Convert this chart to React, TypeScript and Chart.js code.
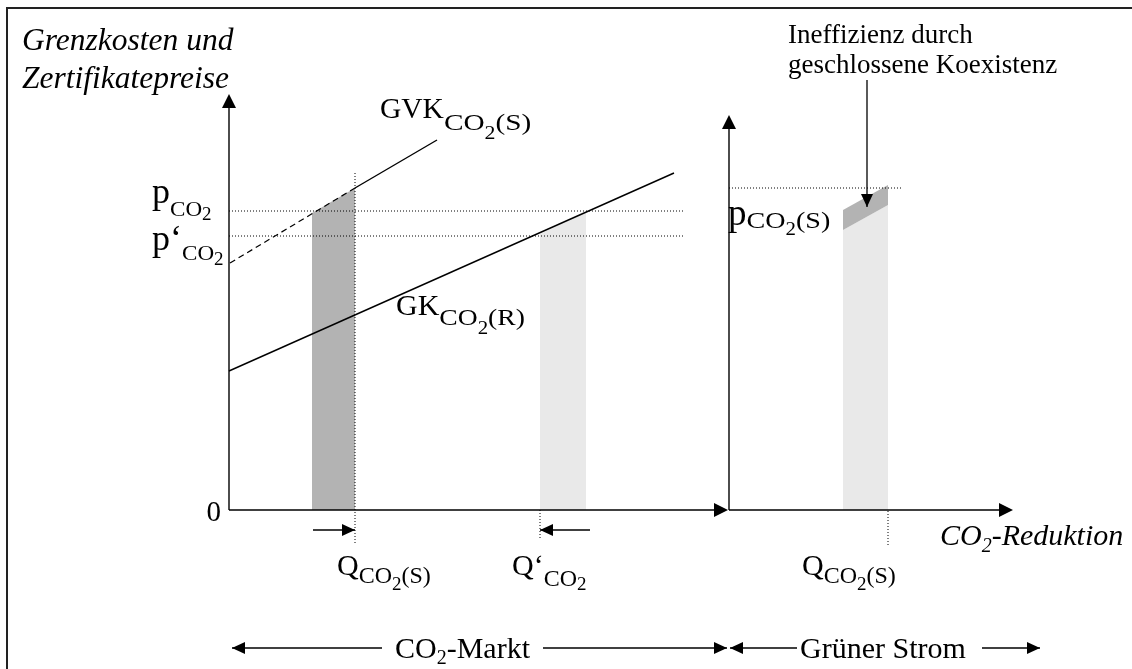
import { useEffect, useRef } from "react";
import { Chart, registerables } from "chart.js";

Chart.register(...registerables);

// ---- Data (diagram units; origin = origin of the CO2-market panel) ----
const xExtent = [-229, 903];
const yExtent = [-159, 510];

// Marginal cost curve of green-power-induced CO2 reduction (GVK)
const gvkX = [1, 126, 208];
const gvkY = [247, 322, 370];
// Marginal cost curve of CO2 reduction (GK)
const gkX = [0, 445];
const gkY = [139, 337];

// Price levels: p_CO2, p'_CO2, p_CO2(S)
const priceLevels = [299, 274, 322];
// Quantities: Q_CO2(S), Q'_CO2, Q_CO2(S) (green power panel)
const quantities = [126, 311, 659];

// Shaded areas
const darkBarX = [83, 126];
const darkBarY = [297, 322];
const lightBarX = [311, 357];
const lightBarY = [276, 298];
const greenBarX = [614, 659];
const greenBandTop = [300, 325];
const greenBandBottom = [280, 305];

// Axes
const marketAxisEnd = [499, 416]; // x tip, y tip
const greenOriginX = 500;
const greenAxisEnd = [784, 395];

const FONT = '"Liberation Serif", "Times New Roman", serif';

type Run = [string, number, number, boolean?, number?];

function drawRuns(ctx: CanvasRenderingContext2D, x: number, y: number, parts: Run[]) {
  let cx = x;
  for (const [t, size, dy, italic, sx] of parts) {
    const s = sx ?? 1;
    ctx.font = `${italic ? "italic " : ""}${size}px ${FONT}`;
    ctx.save();
    ctx.translate(cx, y + dy);
    ctx.scale(s, 1);
    ctx.fillText(t, 0, 0);
    ctx.restore();
    cx += ctx.measureText(t).width * s;
  }
}

function arrowHead(
  ctx: CanvasRenderingContext2D,
  tx: number,
  ty: number,
  dx: number,
  dy: number,
  len: number,
  half: number
) {
  const bx = tx - dx * len;
  const by = ty - dy * len;
  const px = -dy;
  const py = dx;
  ctx.beginPath();
  ctx.moveTo(tx, ty);
  ctx.lineTo(bx + px * half, by + py * half);
  ctx.lineTo(bx - px * half, by - py * half);
  ctx.closePath();
  ctx.fill();
}

const pts = (xs: number[], ys: number[]) => xs.map((x, i) => ({ x, y: ys[i] }));

const diagramPlugin = {
  id: "diagram",
  beforeDraw(chart: any) {
    const ctx = chart.ctx as CanvasRenderingContext2D;
    ctx.save();
    ctx.fillStyle = "#fff";
    ctx.fillRect(0, 0, chart.width, chart.height);
    ctx.restore();
  },
  afterDatasetsDraw(chart: any) {
    const ctx = chart.ctx as CanvasRenderingContext2D;
    const X = (v: number) => chart.scales.x.getPixelForValue(v);
    const Y = (v: number) => chart.scales.y.getPixelForValue(v);
    ctx.save();
    // frame
    ctx.strokeStyle = "#222";
    ctx.lineWidth = 2;
    ctx.beginPath();
    ctx.moveTo(7, chart.height);
    ctx.lineTo(7, 8);
    ctx.lineTo(chart.width, 8);
    ctx.stroke();

    ctx.fillStyle = "#000";
    ctx.strokeStyle = "#000";
    // axis arrowheads
    arrowHead(ctx, X(0), Y(marketAxisEnd[1]), 0, -1, 14, 7);
    arrowHead(ctx, X(marketAxisEnd[0]), Y(0), 1, 0, 14, 7);
    arrowHead(ctx, X(greenOriginX), Y(greenAxisEnd[1]), 0, -1, 14, 7);
    arrowHead(ctx, X(greenAxisEnd[0]), Y(0), 1, 0, 14, 7);

    // small shift arrows below axis + annotation arrow
    ctx.lineWidth = 1.3;
    const segs: [number, number, number, number][] = [
      [84, -20, quantities[0], -20],
      [361, -20, quantities[1], -20],
      [638, 430, 638, 303],
    ];
    for (const [x1, y1, x2, y2] of segs) {
      ctx.beginPath();
      ctx.moveTo(X(x1), Y(y1));
      ctx.lineTo(X(x2), Y(y2));
      ctx.stroke();
      const l = Math.hypot(X(x2) - X(x1), Y(y2) - Y(y1));
      arrowHead(ctx, X(x2), Y(y2), (X(x2) - X(x1)) / l, (Y(y2) - Y(y1)) / l, 13, 6);
    }

    // bottom range arrows
    const by = -138;
    const bottom: [number, number][] = [
      [153, 3],
      [314, 498],
      [568, 501],
      [753, 811],
    ];
    for (const [x1, x2] of bottom) {
      ctx.beginPath();
      ctx.moveTo(X(x1), Y(by));
      ctx.lineTo(X(x2), Y(by));
      ctx.stroke();
      const d = x2 > x1 ? 1 : -1;
      arrowHead(ctx, X(x2), Y(by), d, 0, 13, 6);
    }

    // texts
    ctx.textBaseline = "alphabetic";
    ctx.textAlign = "left";
    drawRuns(ctx, X(-207), Y(460), [["Grenzkosten und", 31.5, 0, true]]);
    drawRuns(ctx, X(-207), Y(422), [["Zertifikatepreise", 31.5, 0, true]]);
    ctx.textAlign = "right";
    drawRuns(ctx, X(-8), Y(-11), [["0", 29, 0]]);
    ctx.textAlign = "left";

    drawRuns(ctx, X(-77), Y(307), [["p", 36, 0], ["CO", 22, 13, false, 1.05], ["2", 19, 17]]);
    drawRuns(ctx, X(-77), Y(260), [["p‘", 36, 0], ["CO", 22, 10, false, 1.05], ["2", 19, 15]]);
    drawRuns(ctx, X(151), Y(392), [["GVK", 29.5, 0], ["CO", 24, 12, false, 1.22], ["2", 19, 21, false, 1.15], ["(S)", 24, 12, false, 1.22]]);
    drawRuns(ctx, X(167), Y(195), [["GK", 30, 0], ["CO", 24, 10, false, 1.15], ["2", 19, 19, false, 1.1], ["(R)", 24, 10, false, 1.15]]);
    drawRuns(ctx, X(499), Y(285), [["p", 37, 0], ["CO", 24, 3, false, 1.17], ["2", 19, 10, false, 1.1], ["(S)", 24, 3, false, 1.17]]);
    drawRuns(ctx, X(108), Y(-65), [["Q", 30, 0], ["CO", 24, 8], ["2", 19, 15], ["(S)", 24, 8]]);
    drawRuns(ctx, X(283), Y(-65), [["Q‘", 30, 0], ["CO", 24, 11], ["2", 19, 15]]);
    drawRuns(ctx, X(573), Y(-65), [["Q", 30, 0], ["CO", 24, 8], ["2", 19, 15], ["(S)", 24, 8]]);
    drawRuns(ctx, X(711), Y(-35), [["CO", 30, 0, true], ["2", 20, 7, true], ["-Reduktion", 30, 0, true]]);
    drawRuns(ctx, X(559), Y(467), [["Ineffizienz durch", 27, 0]]);
    drawRuns(ctx, X(559), Y(437), [["geschlossene Koexistenz", 27, 0]]);
    drawRuns(ctx, X(166), Y(-148), [["CO", 30, 0], ["2", 20, 6], ["-Markt", 30, 0]]);
    drawRuns(ctx, X(571), Y(-148), [["Grüner Strom", 30, 0]]);
    ctx.restore();
  },
};

export default function App() {
  const ref = useRef<HTMLCanvasElement>(null);
  useEffect(() => {
    const line = (data: any[], extra: any = {}) => ({
      data,
      showLine: true,
      pointRadius: 0,
      borderColor: "#000",
      borderWidth: 1.4,
      fill: false,
      order: 1,
      ...extra,
    });
    const dotted = { borderDash: [1, 2], borderWidth: 1 };
    const area = (data: any[], color: string, fill: any) => ({
      data,
      showLine: true,
      pointRadius: 0,
      borderWidth: 0,
      borderColor: "rgba(0,0,0,0)",
      backgroundColor: color,
      fill,
      order: 5,
    });

    const chart = new Chart(ref.current!, {
      type: "scatter",
      data: {
        datasets: [
          line(pts(gvkX.slice(0, 2), gvkY.slice(0, 2)), { borderDash: [6, 4], borderWidth: 1.2 }),
          line(pts(gvkX.slice(1), gvkY.slice(1))),
          line(pts(gkX, gkY)),
          line(pts([0, 454], [priceLevels[0], priceLevels[0]]), dotted),
          line(pts([0, 454], [priceLevels[1], priceLevels[1]]), dotted),
          line(pts([greenOriginX, 674], [priceLevels[2], priceLevels[2]]), dotted),
          line(pts([quantities[0], quantities[0]], [-33, 338]), dotted),
          line(pts([quantities[1], quantities[1]], [-28, 0]), dotted),
          line(pts([quantities[2], quantities[2]], [-35, 0]), dotted),
          // axes
          line(pts([0, 0], [0, marketAxisEnd[1] - 10])),
          line(pts([0, marketAxisEnd[0] - 10], [0, 0])),
          line(pts([greenOriginX, greenOriginX], [0, greenAxisEnd[1] - 10])),
          line(pts([greenOriginX, greenAxisEnd[0] - 10], [0, 0])),
          // areas
          area(pts(darkBarX, darkBarY), "#b3b3b3", "origin"),
          area(pts(lightBarX, lightBarY), "#e9e9e9", "origin"),
          area(pts(greenBarX, greenBandTop), "#b3b3b3", "+1"),
          area(pts(greenBarX, greenBandBottom), "#e9e9e9", "origin"),
        ],
      },
      options: {
        animation: false,
        responsive: true,
        maintainAspectRatio: false,
        events: [],
        layout: { padding: 0 },
        plugins: { legend: { display: false }, tooltip: { enabled: false } },
        scales: {
          x: { type: "linear", min: xExtent[0], max: xExtent[1], display: false },
          y: { type: "linear", min: yExtent[0], max: yExtent[1], display: false },
        },
      },
      plugins: [diagramPlugin],
    });
    return () => chart.destroy();
  }, []);
  return (
    <div style={{ position: "fixed", left: 0, top: 0, width: 1132, height: 669, background: "#fff" }}>
      <canvas ref={ref} />
    </div>
  );
}
